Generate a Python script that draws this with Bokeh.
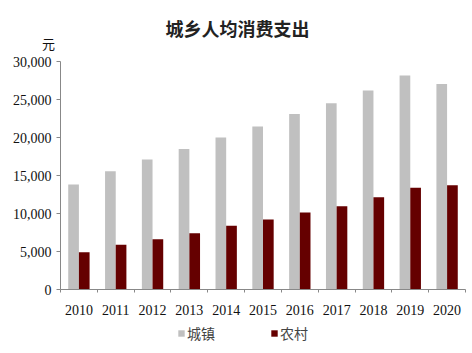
from bokeh.plotting import figure
from bokeh.models import (ColumnDataSource, NumeralTickFormatter, Legend, LegendItem, Label,
                          FixedTicker, Range1d)
from bokeh.transform import dodge
from bokeh.embed import file_html
from bokeh.resources import INLINE

years = ["2010", "2011", "2012", "2013", "2014", "2015", "2016", "2017", "2018", "2019", "2020"]
urban = [13820, 15570, 17100, 18500, 20000, 21440, 23100, 24500, 26200, 28150, 27050]
rural = [4910, 5880, 6620, 7410, 8380, 9210, 10130, 10960, 12150, 13380, 13730]
series_names = ["城镇", "农村"]
y_ticks = [0, 5000, 10000, 15000, 20000, 25000, 30000]
title_text = "城乡人均消费支出"
unit_text = "元"

n = len(years)
centers = [i + 0.5 for i in range(n)]
bounds_x = [float(i) for i in range(n + 1)]

src = ColumnDataSource(dict(x=centers, year=years, urban=urban, rural=rural))

# the frame fills the canvas; axes are pinned at the data origin
px_per_unit = 405 / n
px_per_val = 228 / 30000
p = figure(width=472, height=353, output_backend="svg", toolbar_location=None, title=None,
           x_range=Range1d(-60 / px_per_unit, n + 7 / px_per_unit),
           y_range=Range1d(-64 / px_per_val, 30000 + 61 / px_per_val),
           min_border_left=0, min_border_right=0, min_border_top=0, min_border_bottom=0)

p.outline_line_color = None
p.xgrid.grid_line_color = None
p.ygrid.grid_line_color = None

r1 = p.vbar(x=dodge("x", -0.145), top="urban", width=0.29, source=src,
            fill_color="#C0C0C0", line_color=None)
r2 = p.vbar(x=dodge("x", 0.145), top="rural", width=0.29, source=src,
            fill_color="#650000", line_color=None)

xa = p.xaxis[0]
ya = p.yaxis[0]
xa.fixed_location = 0
ya.fixed_location = 0
xa.bounds = (0, n)
ya.bounds = (0, 30000)
xa.ticker = FixedTicker(ticks=centers, minor_ticks=bounds_x)
xa.major_label_overrides = {c: y for c, y in zip(centers, years)}
xa.major_tick_line_color = None
xa.minor_tick_line_color = "#888888"
xa.minor_tick_in = 0
xa.minor_tick_out = 3
xa.major_label_standoff = 9
ya.ticker = FixedTicker(ticks=y_ticks)
ya.formatter = NumeralTickFormatter(format="0,0")
ya.minor_tick_line_color = None
ya.major_tick_in = 0
ya.major_tick_out = 4
for ax in (xa, ya):
    ax.axis_line_color = "#888888"
    ax.major_label_text_font = "Liberation Serif"
    ax.major_label_text_font_size = "14px"
    ax.major_label_text_color = "#111111"
ya.major_tick_line_color = "#888888"

p.add_layout(Label(x=(237 - 60) / px_per_unit, y=30000 + (61 - 27) / px_per_val,
                   text=title_text, text_font="Noto Sans CJK SC", text_font_size="18px",
                   text_font_style="bold", text_color="#222222",
                   text_align="center", text_baseline="middle"))
p.add_layout(Label(x=(48 - 60) / px_per_unit, y=30000 + (61 - 43) / px_per_val,
                   text=unit_text, text_font="Noto Sans CJK SC", text_font_size="13px",
                   text_color="#111111", text_align="center", text_baseline="middle"))

legend = Legend(items=[LegendItem(label=series_names[0], renderers=[r1]),
                       LegendItem(label=series_names[1], renderers=[r2])],
                orientation="horizontal", location=(177, 10),
                label_text_font="Noto Sans CJK SC", label_text_font_size="14px",
                glyph_width=8, glyph_height=8, spacing=55, label_standoff=2,
                border_line_color=None, background_fill_alpha=0, padding=0, margin=0)
p.add_layout(legend)

open("out.html", "w").write(file_html(p, INLINE))
